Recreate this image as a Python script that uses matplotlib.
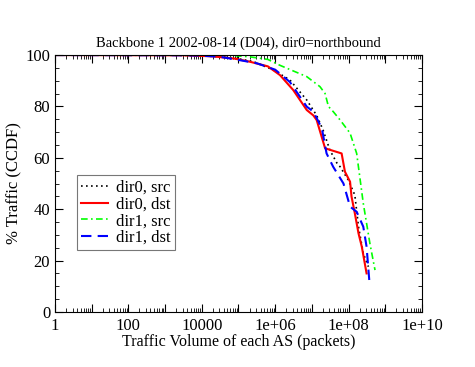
import numpy as np
import matplotlib.pyplot as plt
from matplotlib.ticker import FixedLocator, LogLocator, FuncFormatter, MultipleLocator

plt.rcParams['font.family'] = ['Liberation Serif', 'DejaVu Serif']

# log10 of traffic volume, % traffic (CCDF)
dir0_src_x = [0, 3.5, 4.3, 4.9, 5.4, 5.95, 6.4, 6.86, 7.13, 7.3, 7.49, 7.68, 7.77, 7.99, 8.17, 8.27, 8.4, 8.54]
dir0_src_y = [100, 99.9, 99.5, 98.8, 97.5, 94.2, 90.3, 82.5, 76.5, 71, 63, 58, 56.5, 51.4, 45.5, 33.2, 22.8, 17.6]

dir0_dst_x = [0, 3.5, 4.3, 4.9, 5.31, 5.8, 6.13, 6.49, 6.86, 7.04, 7.13, 7.36, 7.81, 7.9, 8.04, 8.08, 8.17, 8.27, 8.36, 8.49]
dir0_dst_y = [100, 99.9, 99.5, 98.6, 97.4, 95.6, 92.2, 86.4, 78.6, 76.5, 74.7, 63.7, 61.7, 54.6, 50.7, 44.9, 38.4, 30.6, 25.4, 15]

dir1_src_x = [0, 4.0, 4.77, 5.31, 5.8, 6.13, 6.86, 7.22, 7.36, 7.45, 7.58, 7.77, 8.04, 8.22, 8.4, 8.58, 8.72]
dir1_src_y = [100, 100, 99.9, 99.3, 98.3, 96, 91.6, 87.7, 85, 80, 78, 74.7, 69.6, 61.7, 42.3, 26.7, 16.3]

dir1_dst_x = [0, 3.5, 3.95, 4.5, 5.04, 5.5, 6.0, 6.4, 6.86, 7.04, 7.27, 7.4, 7.58, 7.86, 8.04, 8.22, 8.4, 8.49, 8.57]
dir1_dst_y = [100, 99.9, 99.8, 99.3, 98, 96.8, 94.3, 89.5, 79.9, 78, 71.5, 61.7, 56.5, 50, 41, 39, 33.2, 25.4, 11.2]

fig = plt.figure(figsize=(4.75, 3.67), dpi=100)
ax = fig.add_axes([0.1158, 0.15, 0.7726, 0.70])

ax.plot(10 ** np.array(dir0_src_x), dir0_src_y, color='black', linestyle=(0, (1, 2)), lw=1.2, label='dir0, src')
ax.plot(10 ** np.array(dir0_dst_x), dir0_dst_y, color='#ff0000', linestyle='-', lw=1.5, label='dir0, dst')
ax.plot(10 ** np.array(dir1_src_x), dir1_src_y, color='#00ff00', linestyle=(0, (4, 2, 1, 2)), lw=1.2, label='dir1, src')
ax.plot(10 ** np.array(dir1_dst_x), dir1_dst_y, color='#0000ff', linestyle=(0, (5, 3)), lw=1.5, label='dir1, dst')

ax.set_xscale('log')
ax.set_xlim(1, 1e10)
ax.set_ylim(0, 100)

ax.xaxis.set_major_locator(FixedLocator([10.0 ** k for k in range(11)]))
ax.xaxis.set_minor_locator(LogLocator(base=10, subs=np.arange(2, 10), numticks=20))

def xfmt(v, pos):
    k = int(round(np.log10(v)))
    if k % 2:
        return ''
    if k <= 4:
        return str(int(10 ** k))
    return '1e+%02d' % k

ax.xaxis.set_major_formatter(FuncFormatter(xfmt))
ax.yaxis.set_major_locator(MultipleLocator(20))
ax.yaxis.set_minor_locator(MultipleLocator(5))

ax.tick_params(which='both', direction='in', top=True, right=True, labelsize=12)
ax.tick_params(which='major', length=6)
ax.tick_params(which='minor', length=3)
ax.tick_params(axis='x', pad=4)

ax.set_title('Backbone 1 2002-08-14 (D04), dir0=northbound', fontsize=10.5, pad=6)
ax.set_xlabel('Traffic Volume of each AS (packets)', fontsize=11.5, labelpad=0)
ax.set_ylabel('% Traffic (CCDF)', fontsize=12, labelpad=2)

leg = ax.legend(loc='lower left', bbox_to_anchor=(0.06, 0.24), fontsize=12, frameon=True,
                fancybox=False, edgecolor='#555555', handlelength=1.6, borderpad=0.25,
                labelspacing=0.05, handletextpad=0.5, borderaxespad=0)
leg.get_frame().set_linewidth(0.8)

plt.savefig('out.png', dpi=100)
